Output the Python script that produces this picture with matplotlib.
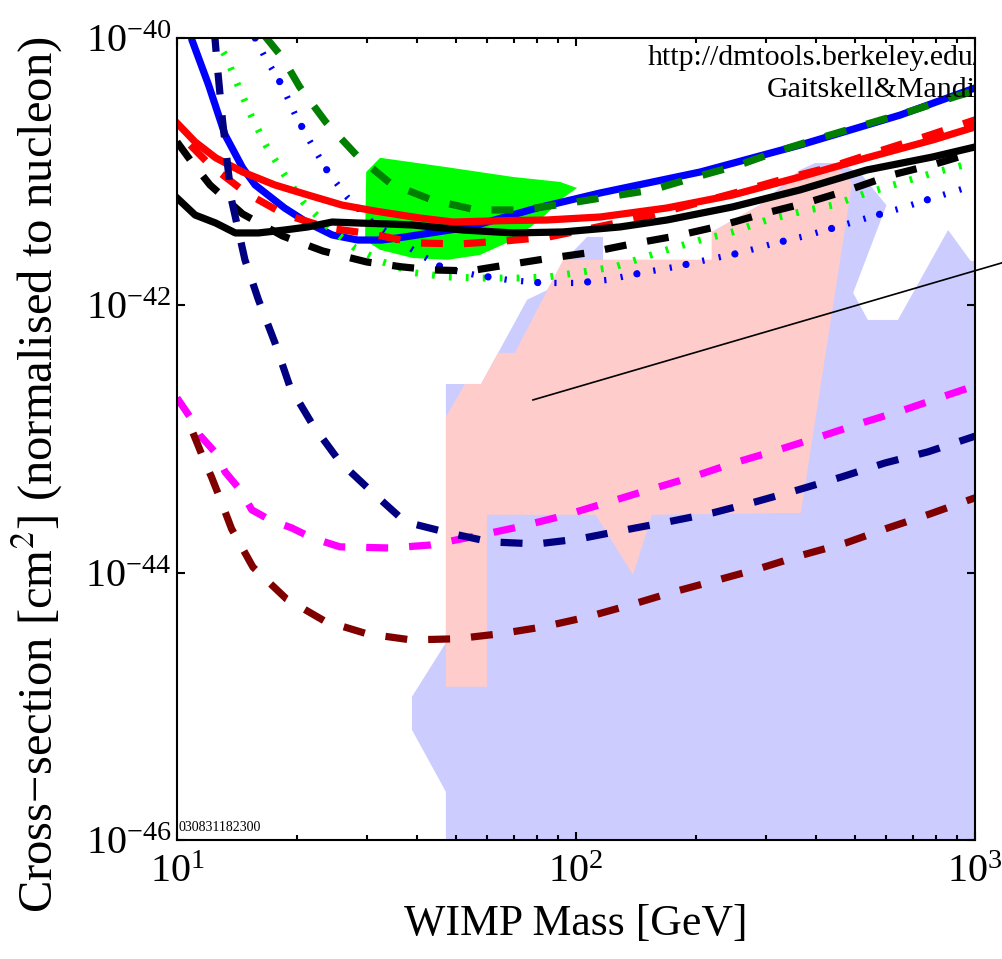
import matplotlib
matplotlib.use("Agg")
import matplotlib.pyplot as plt
from matplotlib.ticker import NullLocator, LogLocator

plt.rcParams['font.family'] = ['Liberation Serif', 'DejaVu Serif']
plt.rcParams['mathtext.fontset'] = 'stix'
plt.rcParams['lines.scale_dashes'] = False

# ---- limit curves: WIMP mass [GeV], cross-section [cm^2] ----
blue_m = [10.8, 10.9, 12.0, 13.2, 14.6, 15.7, 18.6, 21.3, 24.5, 28.4, 32.6, 37.3, 54.2, 79.9, 115, 205, 364, 649, 1000]
blue_s = [1.15e-40, 9.66e-41, 4.45e-41, 1.88e-41, 1.07e-41, 7.95e-42, 5.35e-42, 4.13e-42, 3.36e-42, 3.08e-42,
          3.08e-42, 3.25e-42, 3.86e-42, 5.35e-42, 6.93e-42, 9.95e-42, 1.58e-41, 2.65e-41, 4.23e-41]

dgreen_m = [16.6, 18.4, 20.3, 23.6, 28.3, 34.4, 43.6, 56.2, 72.8, 93.3, 120, 155, 200, 256, 327, 418, 536, 691, 902, 1000]
dgreen_s = [1.035e-40, 7.09e-41, 4.30e-41, 2.35e-41, 1.31e-41, 8.09e-42, 6.14e-42, 5.17e-42, 5.17e-42, 5.73e-42,
            6.47e-42, 7.30e-42, 9.13e-42, 1.12e-41, 1.45e-41, 1.82e-41, 2.27e-41, 2.84e-41, 3.68e-41, 4.01e-41]

red_m = [10, 11.1, 12.5, 14.6, 17.6, 21.3, 25.9, 31.3, 40.6, 49.2, 65.6, 84.6, 115, 169, 247, 364, 536, 785, 1000]
red_s = [2.31e-41, 1.67e-41, 1.27e-41, 9.95e-42, 7.95e-42, 6.69e-42, 5.63e-42, 5.08e-42, 4.50e-42, 4.20e-42,
         4.30e-42, 4.35e-42, 4.58e-42, 5.35e-42, 6.69e-42, 9.13e-42, 1.27e-41, 1.73e-41, 2.16e-41]

redd_m = [10.8, 12.1, 14.9, 18.5, 23.9, 30.8, 39.5, 51.2, 66.4, 85.6, 110, 145, 193, 250, 325, 433, 578, 771, 1000]
redd_s = [1.58e-41, 1.12e-41, 6.93e-42, 4.83e-42, 3.79e-42, 3.42e-42, 2.93e-42, 2.88e-42, 3.03e-42, 3.25e-42,
          3.79e-42, 4.50e-42, 5.63e-42, 6.93e-42, 8.67e-42, 1.08e-41, 1.43e-41, 1.88e-41, 2.44e-41]

black_m = [10, 11.1, 12.5, 14.0, 16.0, 18.6, 21.3, 24.5, 28.4, 33.8, 39.0, 52.1, 69.5, 92.8, 129, 169, 247, 364, 536, 785, 1000]
black_s = [6.36e-42, 4.74e-42, 4.13e-42, 3.48e-42, 3.48e-42, 3.66e-42, 3.86e-42, 4.20e-42, 4.13e-42, 4.06e-42,
           3.99e-42, 3.66e-42, 3.48e-42, 3.54e-42, 3.86e-42, 4.35e-42, 5.45e-42, 7.30e-42, 1.03e-41, 1.29e-41, 1.53e-41]

blackd_m = [10, 10.8, 12.1, 14.6, 18.4, 23.2, 29.9, 36.6, 43.8, 54.2, 64.5, 83.2, 107, 138, 178, 230, 293, 377, 483, 619, 794, 1000]
blackd_s = [1.67e-41, 1.22e-41, 7.95e-42, 4.83e-42, 3.30e-42, 2.55e-42, 2.11e-42, 1.94e-42, 1.84e-42, 1.81e-42,
            1.97e-42, 2.22e-42, 2.47e-42, 2.88e-42, 3.30e-42, 3.93e-42, 4.83e-42, 5.83e-42, 7.30e-42, 9.45e-42,
            1.14e-41, 1.40e-41]

lgreen_m = [12.4, 13.2, 14.2, 15.4, 16.8, 18.6, 20.7, 23.9, 27.9, 32.8, 39.5, 47.8, 58.1, 71.1, 85.1, 104, 125,
            169, 205, 247, 301, 364, 441, 536, 649, 785, 1000]
lgreen_s = [1.0e-40, 7.46e-41, 4.45e-41, 2.56e-41, 1.53e-41, 9.45e-42, 5.93e-42, 3.86e-42, 2.69e-42, 2.11e-42,
            1.75e-42, 1.63e-42, 1.60e-42, 1.60e-42, 1.63e-42, 1.78e-42, 1.94e-42, 2.60e-42, 3.08e-42, 3.54e-42,
            4.35e-42, 5.00e-42, 5.63e-42, 6.93e-42, 8.23e-42, 9.78e-42, 1.18e-41]

bdot_m = [15.7, 16.6, 18.3, 19.8, 21.8, 23.9, 26.8, 30.8, 35.8, 39.0, 46.4, 55.8, 67.5, 82.2, 101, 120, 146, 177,
          213, 258, 310, 375, 451, 546, 656, 785, 1000]
bdot_s = [1.0e-40, 7.21e-41, 4.45e-41, 2.65e-41, 1.58e-41, 9.95e-42, 6.36e-42, 4.20e-42, 3.08e-42, 2.60e-42,
          1.90e-42, 1.69e-42, 1.55e-42, 1.47e-42, 1.47e-42, 1.55e-42, 1.75e-42, 1.94e-42, 2.19e-42, 2.47e-42,
          2.88e-42, 3.30e-42, 3.86e-42, 4.58e-42, 5.35e-42, 6.36e-42, 7.95e-42]

navy_m = [12.4, 12.6, 13.0, 13.7, 14.8, 16.0, 17.6, 19.2, 21.9, 25.6, 30.8, 37.3, 47.8, 60.9, 79.9, 102, 133, 170,
          220, 281, 360, 464, 595, 762, 1000]
navy_s = [1.15e-40, 6.5e-41, 2.44e-41, 6.14e-42, 2.19e-42, 1.10e-42, 5.24e-43, 2.45e-43, 1.27e-43, 6.74e-44,
          4.02e-44, 2.40e-44, 1.99e-44, 1.70e-44, 1.64e-44, 1.79e-44, 2.09e-44, 2.40e-44, 2.80e-44, 3.38e-44,
          4.16e-44, 5.21e-44, 6.62e-44, 8.01e-44, 1.05e-43]

mag_m = [10, 10.78, 11.4, 12.5, 13.2, 14.4, 15.4, 17.1, 19.4, 21.8, 25.6, 34.2, 43.1, 56.2, 71.9, 92.8, 119, 152,
         196, 249, 321, 409, 521, 664, 856, 1000]
mag_s = [2.03e-43, 1.46e-43, 1.07e-43, 7.87e-44, 5.67e-44, 4.16e-44, 2.95e-44, 2.48e-44, 2.16e-44, 1.82e-44,
         1.56e-44, 1.53e-44, 1.61e-44, 1.88e-44, 2.20e-44, 2.66e-44, 3.33e-44, 4.16e-44, 5.21e-44, 6.62e-44,
         8.29e-44, 1.04e-43, 1.32e-43, 1.65e-43, 2.14e-43, 2.50e-43]

maroon_m = [10.97, 11.6, 12.2, 12.8, 13.7, 15.5, 18.8, 23.4, 29.9, 38.6, 50.0, 64.5, 82.7, 107, 137, 176, 227,
            287, 371, 475, 605, 771, 1000]
maroon_s = [1.11e-43, 7.35e-44, 5.21e-44, 3.63e-44, 2.13e-44, 1.10e-44, 6.37e-45, 4.36e-45, 3.49e-45, 3.14e-45,
            3.20e-45, 3.49e-45, 3.93e-45, 4.67e-45, 5.74e-45, 7.19e-45, 8.83e-45, 1.07e-44, 1.36e-44, 1.67e-44,
            2.16e-44, 2.75e-44, 3.63e-44]

# ---- allowed regions ----
lav_m = [47.2, 47.2, 38.8, 38.8, 47.2, 47.2, 57.8, 63.8, 75.4, 84.6, 93.8, 106.6, 116.9, 116.9, 219, 219, 289,
         364, 397, 459, 520, 600, 495, 539, 641, 856, 975, 1000, 1000]
lav_s = [1e-46, 2.29e-46, 6.67e-46, 1.18e-45, 2.99e-45, 2.58e-43, 2.58e-43, 4.41e-43, 1.10e-42, 1.30e-42,
         2.19e-42, 3.25e-42, 3.25e-42, 2.19e-42, 2.19e-42, 3.54e-42, 5.63e-42, 1.03e-41, 1.16e-41, 1.16e-41,
         9.5e-42, 5.6e-42, 1.24e-42, 7.78e-43, 7.78e-43, 3.66e-42, 2.15e-42, 2.15e-42, 1e-46]

pink_m = [47.2, 47.2, 52.7, 57.8, 63.8, 70.3, 92.8, 219, 219, 289, 364, 446, 492, 366, 155, 139, 112, 59.8, 59.8]
pink_s = [1.40e-45, 1.46e-43, 2.58e-43, 2.58e-43, 4.41e-43, 4.41e-43, 2.19e-42, 2.19e-42, 3.54e-42, 5.63e-42,
          9.45e-42, 1.12e-41, 8.23e-42, 2.80e-44, 2.71e-44, 9.63e-45, 2.71e-44, 2.71e-44, 1.40e-45]

green_m = [29.6, 29.8, 32.3, 47.5, 69.5, 91.2, 100.6, 92.8, 81.2, 69.5, 57.4, 47.5, 39.0, 32.3]
green_s = [3.08e-42, 9.95e-42, 1.27e-41, 1.08e-41, 9.13e-42, 8.38e-42, 7.55e-42, 6.36e-42, 4.35e-42, 3.08e-42,
           2.38e-42, 2.19e-42, 2.26e-42, 2.60e-42]

pointer_m = [78.0, 1169]
pointer_s = [1.96e-43, 2.08e-42]

fig = plt.figure(figsize=(10.02, 9.59), dpi=100)
ax = fig.add_axes([177 / 1002, 119 / 959, 798 / 1002, 802 / 959])
ax.set_xscale('log')
ax.set_yscale('log')

ax.fill(lav_m, lav_s, color='#ccccff', lw=0, zorder=1)
ax.fill(pink_m, pink_s, color='#ffcccc', lw=0, zorder=2)
ax.fill(green_m, green_s, color='#00ff00', lw=0, zorder=3)

lw = 5.2
dash = (0, (15.8, 15.1))
ax.plot(blue_m, blue_s, color='#0000ff', lw=lw, zorder=5)
ax.plot(dgreen_m, dgreen_s, color='#007f00', lw=lw, ls=dash, zorder=6)
ax.plot(red_m, red_s, color='#ff0000', lw=lw, zorder=7)
ax.plot(redd_m, redd_s, color='#ff0000', lw=lw, ls=dash, zorder=7)
ax.plot(black_m, black_s, color='black', lw=lw, zorder=8)
ax.plot(blackd_m, blackd_s, color='black', lw=lw, ls=dash, zorder=8)
ax.plot(lgreen_m, lgreen_s, color='#00ff00', lw=5.0, ls=(0, (2.0, 10.2)), zorder=6)
ax.plot(bdot_m, bdot_s, color='#0000ff', lw=4.5, ls=(0, (1.6, 10.4)), zorder=6)
ax.plot(bdot_m, bdot_s, color='#0000ff', lw=5.2, ls=(0, (0.01, 35.99)),
        dash_capstyle='round', zorder=6)
ax.plot(mag_m, mag_s, color='#ff00ff', lw=lw, ls=dash, zorder=9)
ax.plot(navy_m, navy_s, color='#000080', lw=lw, ls=dash, zorder=10)
ax.plot(maroon_m, maroon_s, color='#800000', lw=lw, ls=dash, zorder=10)
ax.plot(pointer_m, pointer_s, color='black', lw=1.2, clip_on=False, zorder=11)

ax.set_xlim(10, 1000)
ax.set_ylim(1e-46, 1e-40)
ax.set_yticks([1e-46, 1e-44, 1e-42, 1e-40])
ax.yaxis.set_minor_locator(NullLocator())
ax.xaxis.set_major_locator(LogLocator(base=10))
ax.xaxis.set_minor_locator(LogLocator(base=10, subs=range(2, 10)))
ax.xaxis.set_minor_formatter(matplotlib.ticker.NullFormatter())

for sp in ax.spines.values():
    sp.set_linewidth(1.5)
    sp.set_zorder(20)
ax.tick_params(which='both', direction='in', top=True, right=True, width=1.5, labelsize=29)
ax.tick_params(which='major', length=6)
ax.tick_params(which='minor', length=3.5)
ax.tick_params(axis='x', pad=10)
ax.tick_params(axis='y', pad=4)

ax.set_xlabel('WIMP Mass [GeV]', fontsize=31.5)
ax.set_ylabel('Cross\u2212section [cm$^2$] (normalised to nucleon)', fontsize=35)
ax.xaxis.set_label_coords(0.5, -0.08)
ax.yaxis.set_label_coords(-0.140, 0.455)

ax.text(1.008, 0.966, 'http://dmtools.berkeley.edu/', transform=ax.transAxes, ha='right',
        va='baseline', fontsize=21.5, clip_on=True, zorder=12)
ax.text(1.018, 0.926, 'Gaitskell&Mandic', transform=ax.transAxes, ha='right',
        va='baseline', fontsize=21.5, clip_on=True, zorder=12)
ax.text(0.002, 0.008, '030831182300', transform=ax.transAxes, ha='left', va='bottom',
        fontsize=10, zorder=12)

fig.savefig('out.png', dpi=100)
